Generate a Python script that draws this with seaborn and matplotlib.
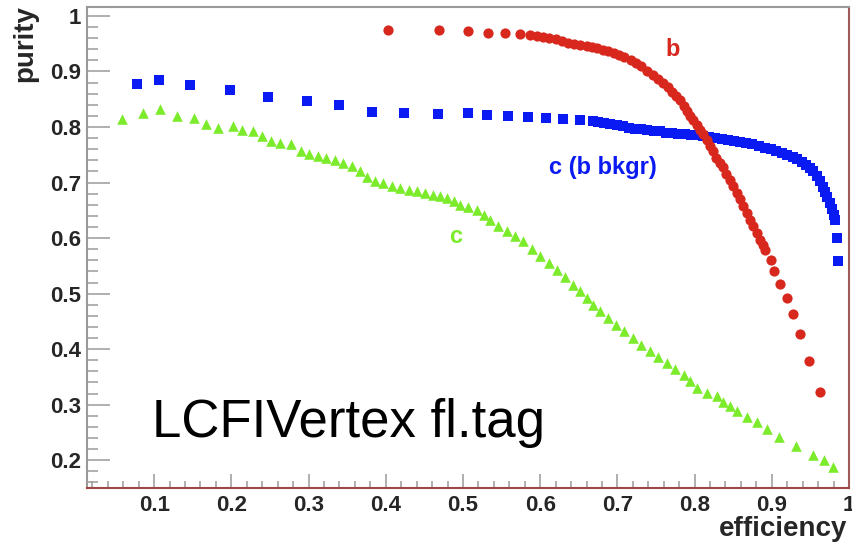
import numpy as np
import pandas as pd
import matplotlib
matplotlib.use("Agg")
import matplotlib.pyplot as plt
from matplotlib.ticker import MultipleLocator, FuncFormatter
import seaborn as sns

# b-tag: efficiency vs purity
b_eff = [0.4035, 0.469, 0.506, 0.532, 0.555, 0.574, 0.587, 0.596, 0.604, 0.612,
         0.620, 0.628, 0.636, 0.644, 0.652, 0.660, 0.667, 0.674, 0.681, 0.688,
         0.695, 0.702, 0.709, 0.717, 0.724, 0.731, 0.739, 0.746, 0.752, 0.759,
         0.765, 0.771, 0.776, 0.781, 0.786, 0.790, 0.794, 0.798, 0.803, 0.807,
         0.811, 0.816, 0.820, 0.824, 0.828, 0.833, 0.837, 0.841, 0.846, 0.850,
         0.855, 0.859, 0.863, 0.868, 0.872, 0.876, 0.881, 0.885, 0.888, 0.891,
         0.899, 0.903, 0.911, 0.920, 0.927, 0.937, 0.948, 0.963]
b_pur = [0.974, 0.974, 0.972, 0.970, 0.969, 0.967, 0.965, 0.963, 0.962, 0.960,
         0.958, 0.954, 0.952, 0.950, 0.948, 0.946, 0.944, 0.942, 0.939, 0.936,
         0.933, 0.929, 0.926, 0.921, 0.916, 0.909, 0.900, 0.893, 0.887, 0.880,
         0.872, 0.863, 0.855, 0.849, 0.838, 0.828, 0.820, 0.813, 0.803, 0.795,
         0.787, 0.777, 0.766, 0.756, 0.745, 0.736, 0.728, 0.716, 0.705, 0.694,
         0.682, 0.670, 0.658, 0.645, 0.633, 0.621, 0.609, 0.597, 0.587, 0.578,
         0.561, 0.540, 0.518, 0.492, 0.464, 0.428, 0.378, 0.323]

# c-tag with b background
cb_eff = [0.078, 0.106, 0.147, 0.198, 0.248, 0.298, 0.340, 0.382, 0.424, 0.467,
          0.506, 0.531, 0.558, 0.584, 0.607, 0.629, 0.652, 0.668, 0.675, 0.683,
          0.691, 0.699, 0.707, 0.715, 0.723, 0.731, 0.739, 0.747, 0.755, 0.763,
          0.771, 0.779, 0.787, 0.795, 0.803, 0.811, 0.819, 0.827, 0.835, 0.843,
          0.851, 0.859, 0.867, 0.875, 0.883, 0.891, 0.899, 0.906, 0.913, 0.920,
          0.927, 0.933, 0.939, 0.944, 0.950, 0.954, 0.958, 0.962, 0.966, 0.969,
          0.972, 0.975, 0.978, 0.980, 0.982, 0.985, 0.986]
cb_pur = [0.878, 0.885, 0.875, 0.866, 0.854, 0.847, 0.839, 0.827, 0.826, 0.823,
          0.826, 0.821, 0.819, 0.818, 0.816, 0.815, 0.813, 0.810, 0.809, 0.807,
          0.805, 0.803, 0.801, 0.799, 0.797, 0.796, 0.794, 0.793, 0.792, 0.790,
          0.789, 0.788, 0.787, 0.786, 0.785, 0.784, 0.782, 0.780, 0.779, 0.777,
          0.775, 0.773, 0.771, 0.769, 0.766, 0.763, 0.760, 0.757, 0.753, 0.750,
          0.746, 0.742, 0.737, 0.732, 0.726, 0.720, 0.711, 0.702, 0.692, 0.683,
          0.674, 0.664, 0.652, 0.642, 0.632, 0.601, 0.558]

# c-tag
c_eff = [0.058, 0.085, 0.107, 0.130, 0.152, 0.167, 0.183, 0.202, 0.214, 0.228,
         0.240, 0.251, 0.263, 0.277, 0.290, 0.300, 0.312, 0.323, 0.334, 0.345,
         0.356, 0.367, 0.376, 0.386, 0.397, 0.408, 0.419, 0.430, 0.440, 0.451,
         0.461, 0.470, 0.479, 0.488, 0.496, 0.507, 0.518, 0.527, 0.535, 0.546,
         0.557, 0.568, 0.578, 0.589, 0.600, 0.611, 0.622, 0.632, 0.642, 0.651,
         0.660, 0.669, 0.678, 0.688, 0.698, 0.709, 0.720, 0.731, 0.742, 0.753,
         0.764, 0.775, 0.786, 0.794, 0.803, 0.816, 0.829, 0.837, 0.846, 0.855,
         0.868, 0.881, 0.894, 0.909, 0.932, 0.954, 0.968, 0.979]
c_pur = [0.814, 0.826, 0.832, 0.820, 0.816, 0.806, 0.798, 0.802, 0.795, 0.793,
         0.784, 0.774, 0.771, 0.770, 0.756, 0.752, 0.748, 0.745, 0.741, 0.736,
         0.729, 0.720, 0.710, 0.703, 0.699, 0.694, 0.690, 0.687, 0.684, 0.681,
         0.678, 0.675, 0.672, 0.666, 0.660, 0.656, 0.651, 0.642, 0.633, 0.622,
         0.612, 0.603, 0.594, 0.581, 0.567, 0.555, 0.543, 0.530, 0.515, 0.505,
         0.493, 0.480, 0.469, 0.456, 0.444, 0.432, 0.420, 0.408, 0.396, 0.386,
         0.375, 0.364, 0.353, 0.342, 0.330, 0.321, 0.315, 0.305, 0.297, 0.288,
         0.278, 0.269, 0.257, 0.242, 0.225, 0.210, 0.200, 0.187]

RED = "#D8281E"
BLUE = "#0A1AF2"
GREEN = "#7CEB2C"

sns.set_style("white")
plt.rcParams["font.family"] = ["Liberation Sans", "DejaVu Sans"]

fig = plt.figure(figsize=(8.53, 5.43), dpi=100)
ax = fig.add_axes([0.102, 0.1013, 0.8933, 0.8857])

df_b = pd.DataFrame({"efficiency": b_eff, "purity": b_pur})
df_cb = pd.DataFrame({"efficiency": cb_eff, "purity": cb_pur})
df_c = pd.DataFrame({"efficiency": c_eff, "purity": c_pur})

sns.scatterplot(data=df_c, x="efficiency", y="purity", ax=ax, marker="^",
                s=58, color=GREEN, linewidth=0, zorder=3)
sns.scatterplot(data=df_cb, x="efficiency", y="purity", ax=ax, marker="s",
                s=56, color=BLUE, linewidth=0, zorder=4)
sns.scatterplot(data=df_b, x="efficiency", y="purity", ax=ax, marker="o",
                s=54, color=RED, linewidth=0, zorder=5)

ax.set_xlim(0.013, 1.0)
ax.set_ylim(0.15, 1.016)

ax.xaxis.set_major_locator(MultipleLocator(0.1))
ax.xaxis.set_minor_locator(MultipleLocator(0.02))
ax.yaxis.set_major_locator(MultipleLocator(0.1))
ax.yaxis.set_minor_locator(MultipleLocator(0.02))
fmt = FuncFormatter(lambda v, p: f"{v:.1f}".rstrip("0").rstrip(".") if abs(v - 1) > 1e-9 else "1")
ax.xaxis.set_major_formatter(fmt)
ax.yaxis.set_major_formatter(fmt)

tick_grey = "#9a9a9a"
ax.tick_params(axis="y", which="major", direction="in", length=16.5, width=1.1,
               color=tick_grey, left=True, right=False, pad=4, labelsize=16)
ax.tick_params(axis="y", which="minor", direction="in", length=8, width=1.1,
               color=tick_grey, left=True, right=False)
ax.tick_params(axis="x", which="major", direction="in", length=10, width=1.1,
               color=tick_grey, bottom=True, top=False, pad=5, labelsize=16)
ax.tick_params(axis="x", which="minor", direction="in", length=5, width=1.1,
               color=tick_grey, bottom=True, top=False)
for lbl in ax.get_xticklabels() + ax.get_yticklabels():
    lbl.set_fontweight("bold")

ax.spines["left"].set_color(tick_grey)
ax.spines["top"].set_color(tick_grey)
ax.spines["bottom"].set_color("#a04545")
ax.spines["right"].set_color("#a05a5a")
for sp in ax.spines.values():
    sp.set_linewidth(1.5)

ax.set_xlabel("")
ax.set_ylabel("")
fig.text(0.993, 0.012, "efficiency", ha="right", va="baseline",
         fontsize=20, fontweight="bold")
fig.text(0.030, 0.99, "purity", ha="center", va="top", rotation=90,
         fontsize=20, fontweight="bold")

ax.text(0.771, 0.939, "b", color=RED, fontsize=17, fontweight="bold",
        ha="center", va="center")
ax.text(0.612, 0.728, "c (b bkgr)", color=BLUE, fontsize=17, fontweight="bold",
        ha="left", va="center")
ax.text(0.491, 0.603, "c", color=GREEN, fontsize=17, fontweight="bold",
        ha="center", va="center")
ax.text(0.097, 0.241, "LCFIVertex fl.tag", color="black", fontsize=38,
        ha="left", va="baseline")

fig.savefig("out.png", dpi=100, facecolor="white")
